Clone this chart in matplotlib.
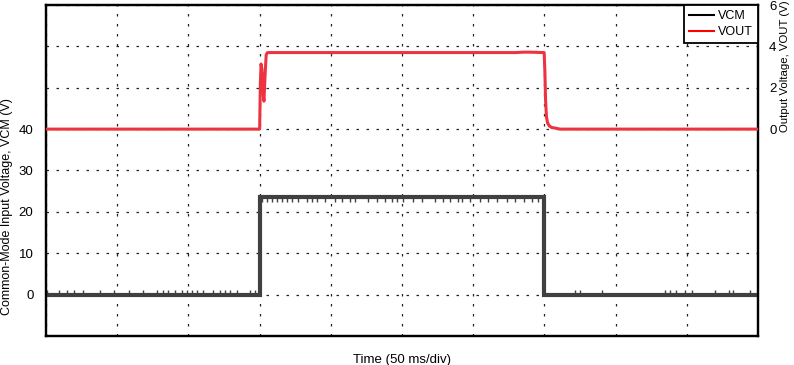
import numpy as np
import matplotlib
matplotlib.use("Agg")
import matplotlib.pyplot as plt

plt.rcParams['font.family'] = ['Liberation Sans', 'DejaVu Sans']

# VCM trace (ms, V): steps at 150 ms and 350 ms
vcm_t = [0, 150, 150, 350, 350, 500]
vcm_v = [0, 0, 23.5, 23.5, 0, 0]

# glitches (ms)
vcm_glitch_low = [0.9, 9.3, 14.9, 19.9, 26.2, 37.9, 47.8, 58.5, 68.3, 77.7, 82.4, 85.9,
                  90.6, 95.3, 98.8, 102.3, 105.8, 110.4, 117.5, 122.2, 125.7, 129.2,
                  133.9, 143.0, 146.8,
                  371.5, 375.0, 390.2, 434.6, 438.2, 442.4, 448.7, 453.4, 469.8,
                  479.9, 482.7, 494.4]
vcm_glitch_high = [151.5, 155.0, 158.5, 162.0, 165.5, 169.0, 172.5, 177.2, 183.1, 186.6,
                   190.1, 195.9, 202.9, 207.7, 213.5, 217.0, 226.3, 232.2, 238.1, 242.8,
                   246.3, 250.9, 257.9, 263.8, 273.2, 279.0, 283.7, 289.5, 291.9, 297.8,
                   304.8, 310.6, 316.5, 323.5, 329.4, 335.3, 341.1, 345.7]

# VOUT trace (ms, V)
vout_t = [0, 150.0, 150.5, 151.0, 151.6, 152.3, 153.0, 153.8, 154.6, 155.5,
          330.0, 335.0, 340.0, 349.8, 350.3, 350.8, 351.4, 352.2, 353.5, 355.0,
          357.5, 361.0, 500]
vout_v = [0, 0, 2.2, 3.15, 2.9, 1.9, 1.35, 2.6, 3.6, 3.7,
          3.7, 3.72, 3.72, 3.7, 2.8, 1.4, 0.6, 0.3, 0.15, 0.08,
          0.05, 0.0, 0]

fig = plt.figure(figsize=(7.94, 3.65), dpi=100)
ax = fig.add_axes([0.058, 0.0795, 0.8967, 0.9068])
ax2 = ax.twinx()

gray = '#404040'
red = '#ee3340'

ax.plot(vcm_t, vcm_v, color=gray, lw=3, solid_joinstyle='miter', zorder=3)
ax.vlines(vcm_glitch_low, 0, 1.0, color=gray, lw=1, zorder=3)
ax.vlines(vcm_glitch_high, 22.5, 23.5, color=gray, lw=1, zorder=3)
ax2.plot(vout_t, vout_v, color=red, lw=2.2, zorder=3)

ax.set_xlim(0, 500)
ax.set_ylim(-10, 70)
ax2.set_ylim(-10, 6)

grid_kw = dict(color='#222222', lw=0.9, linestyle=(0, (2, 6)))
ax.set_xticks(np.arange(0, 501, 50))
ax.set_yticks(np.arange(-10, 71, 10))
ax.xaxis.grid(True, **grid_kw)
ax.yaxis.grid(True, **grid_kw)
ax.set_axisbelow(True)
ax.set_xticklabels([])
ax.set_yticklabels(['' if v < 0 or v > 40 else str(v) for v in range(-10, 71, 10)])
ax2.set_yticks([0, 2, 4, 6])

ax.tick_params(length=0, labelsize=9.5, pad=9)
ax2.tick_params(length=0, labelsize=9.5, pad=8)

for a in (ax, ax2):
    for s in a.spines.values():
        s.set_linewidth(1.6)
        s.set_color('black')

ax.set_xlabel('Time (50 ms/div)', fontsize=9.5, labelpad=4)
ax.set_ylabel('Common-Mode Input Voltage, VCM (V)', fontsize=9)
ax.yaxis.set_label_coords(-0.046, 0.39)
ax2.set_ylabel('Output Voltage, VOUT (V)', fontsize=8.2)
ax2.yaxis.set_label_coords(1.031, 0.815)

h1 = plt.Line2D([], [], color='black', lw=1.5)
h2 = plt.Line2D([], [], color='red', lw=1.5)
leg = ax2.legend([h1, h2], ['VCM', 'VOUT'], loc='upper right', fontsize=9,
                 fancybox=False, framealpha=1, edgecolor='black',
                 borderaxespad=0, handlelength=2.0, handletextpad=0.3,
                 borderpad=0.4, labelspacing=0.35)
leg.get_frame().set_linewidth(1.3)

fig.savefig('out.png', dpi=100)
